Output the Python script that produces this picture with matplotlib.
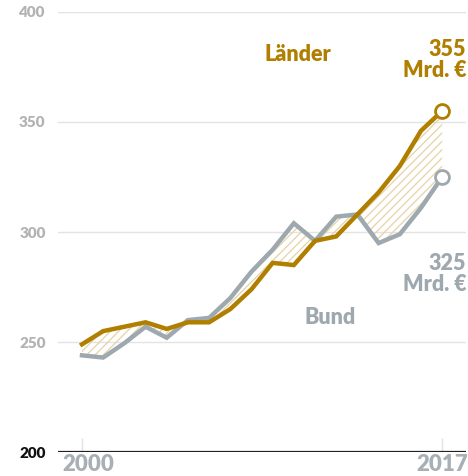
import matplotlib
matplotlib.use("Agg")
import matplotlib.pyplot as plt
import numpy as np

years = list(range(2000, 2018))
laender = [249, 255, 257, 259, 256, 259, 259, 265, 274, 286, 285, 296, 298, 308, 318, 330, 346, 355]
bund = [244, 243, 249.5, 257, 252, 260, 261, 270, 282, 292, 304, 296, 307, 308, 295, 299, 311, 325]
yticks = [200, 250, 300, 350, 400]
xticks = [2000, 2017]

GOLD = "#b07f00"
GREY = "#9ea8af"
HATCH = "#e6d3a6"
FONT = "Lato"

fig = plt.figure(figsize=(4.68, 4.76), dpi=100)
ax = fig.add_axes([0.124, 0.050, 0.872, 0.925])
ax.set_xlim(1998.87, 2018.13)
ax.set_ylim(200, 400)

plt.rcParams['hatch.linewidth'] = 0.9
plt.rcParams['hatch.color'] = HATCH
ax.fill_between(years, laender, bund, facecolor="none", edgecolor=HATCH,
                hatch="////", linewidth=0, zorder=1)

for y in yticks[1:]:
    ax.axhline(y, color="#e3e3e3", lw=1, zorder=0)
ax.axhline(200, color="#222222", lw=1.6, zorder=3)

ax.plot(years, bund, color=GREY, lw=3.2, solid_joinstyle="miter", zorder=4)
ax.plot(years, laender, color=GOLD, lw=3.2, solid_joinstyle="miter", zorder=5)
ax.plot([years[-1]], [laender[-1]], marker="o", ms=10, mfc="white", mec=GOLD, mew=2, zorder=6)
ax.plot([years[-1]], [bund[-1]], marker="o", ms=10, mfc="white", mec=GREY, mew=2, zorder=6)

for s in ax.spines.values():
    s.set_visible(False)
ax.set_yticks(yticks)
ax.set_yticklabels([str(v) for v in yticks], fontfamily=FONT, fontweight="heavy", fontsize=11)
for lbl, v in zip(ax.get_yticklabels(), yticks):
    lbl.set_color("#111111" if v == 200 else "#b3b3b3")
ax.tick_params(axis="y", length=0, pad=9)
ax.set_xticks(xticks)
ax.set_xticklabels([])
ax.tick_params(axis="x", direction="in", length=10, width=1, color="#e3e3e3")

ax.text(2000.3, 199, "2000", ha="center", va="top", color="#a8b0b5",
        fontfamily=FONT, fontweight="heavy", fontsize=16)
ax.text(2017.0, 199, "2017", ha="center", va="top", color="#a8b0b5",
        fontfamily=FONT, fontweight="heavy", fontsize=16)

ax.text(2010.2, 380.5, "Länder", ha="center", va="center", color=GOLD,
        fontfamily=FONT, fontweight="heavy", fontsize=15.5)
ax.text(2018.13, 378, "355\nMrd. €", ha="right", va="center", color=GOLD,
        fontfamily=FONT, fontweight="heavy", fontsize=15.5, linespacing=1.0)
ax.text(2018.13, 281, "325\nMrd. €", ha="right", va="center", color=GREY,
        fontfamily=FONT, fontweight="heavy", fontsize=15.5, linespacing=1.0)
ax.text(2011.7, 261, "Bund", ha="center", va="center", color=GREY,
        fontfamily=FONT, fontweight="heavy", fontsize=15.5)

fig.savefig("out.png", dpi=100)
